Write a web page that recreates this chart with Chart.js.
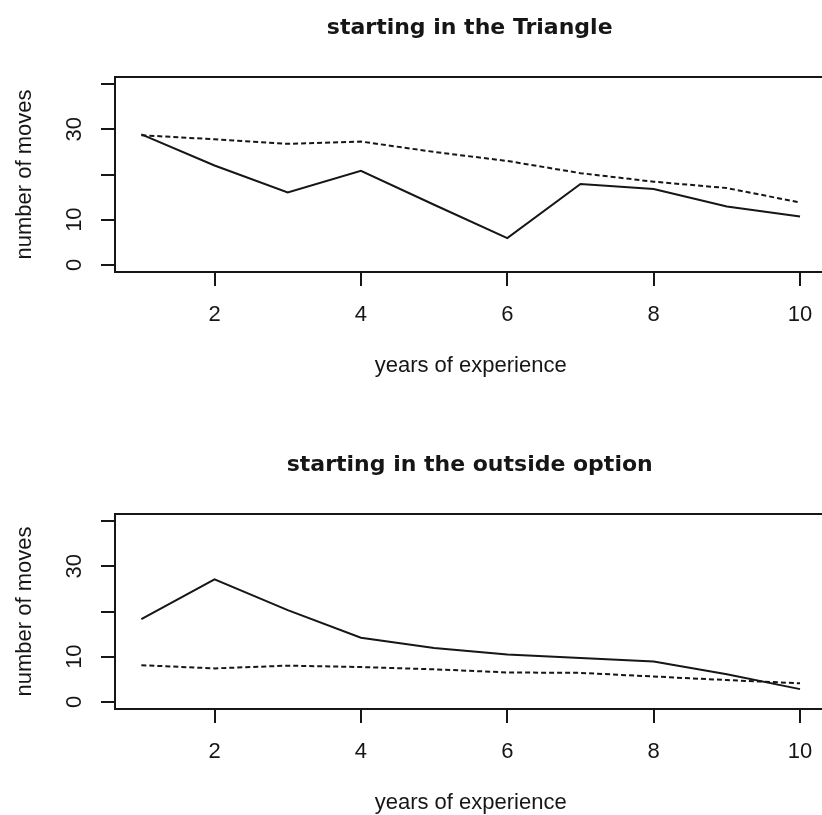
<!DOCTYPE html>
<html>
<head>
<meta charset="utf-8">
<script src="https://cdn.jsdelivr.net/npm/chart.js@4.4.1/dist/chart.umd.min.js"></script>
<style>
  html, body { margin: 0; padding: 0; background: #fff; overflow: hidden; width: 822px; height: 815px; }
  canvas.panel { position: absolute; left: 0; width: 860px; height: 400px; }
</style>
</head>
<body>
<canvas id="triangle" class="panel" style="top:0px" width="860" height="400"></canvas>
<canvas id="outside" class="panel" style="top:437px" width="860" height="400"></canvas>
<script>
// Years of experience on the x axis
const years = [1, 2, 3, 4, 5, 6, 7, 8, 9, 10];

// Panel 1: starting in the Triangle
const triangleSolid  = [28.9, 22.0, 16.0, 20.8, 13.3, 5.9, 17.9, 16.8, 12.9, 10.7];
const triangleDotted = [28.7, 27.8, 26.8, 27.3, 25.0, 23.0, 20.3, 18.4, 17.0, 13.8];

// Panel 2: starting in the outside option
const outsideSolid  = [18.3, 27.1, 20.3, 14.2, 11.9, 10.5, 9.7, 8.9, 6.1, 2.8];
const outsideDotted = [8.1, 7.4, 8.0, 7.7, 7.2, 6.5, 6.4, 5.6, 4.8, 4.1];

// Axis ticks
const xTicks = [2, 4, 6, 8, 10];
const yTicks = [0, 10, 20, 30, 40];
const yTickLabels = ['0', '10', '', '30', ''];
const yLimits = [0, 40];

const INK = '#161616';
const FAMILY = '"Liberation Sans", Arial, sans-serif';
const TEXT_SIZE = 22;

// base-graphics style 4% expansion of the axis ranges
function expand(lo, hi) {
  const pad = (hi - lo) * 0.04;
  return [lo - pad, hi + pad];
}
const [xMin, xMax] = expand(Math.min(...years), Math.max(...years));
const [yMin, yMax] = expand(yLimits[0], yLimits[1]);

// Box around the plot region, rotated y labels and the panel title
const framePlugin = {
  id: 'frame',
  afterDraw(chart, args, opts) {
    const { ctx, chartArea: a } = chart;
    ctx.save();
    ctx.strokeStyle = INK;
    ctx.lineWidth = 2;
    ctx.strokeRect(a.left, a.top, a.right - a.left, a.bottom - a.top);

    const yScale = chart.scales.y;
    ctx.fillStyle = INK;
    ctx.font = TEXT_SIZE + 'px ' + FAMILY;
    ctx.textAlign = 'center';
    ctx.textBaseline = 'middle';
    yScale.ticks.forEach(t => {
      const label = yTickLabels[yTicks.indexOf(t.value)];
      if (!label) return;
      ctx.save();
      ctx.translate(a.left - 40, yScale.getPixelForValue(t.value));
      ctx.rotate(-Math.PI / 2);
      ctx.fillText(label, 0, 0);
      ctx.restore();
    });

    ctx.font = 'bold 22px "DejaVu Sans", Verdana, sans-serif';
    ctx.textBaseline = 'middle';
    ctx.fillText(opts.text, (a.left + a.right) / 2 - 1, 28);
    ctx.restore();
  }
};

function points(values) {
  return years.map((x, i) => ({ x: x, y: values[i] }));
}

function axisGrid() {
  return { drawOnChartArea: false, drawTicks: true, tickLength: 14, color: INK, lineWidth: 2 };
}

function makePanel(id, title, solid, dotted) {
  return new Chart(document.getElementById(id), {
    type: 'line',
    data: {
      datasets: [
        { data: points(solid), borderColor: INK, borderWidth: 2, pointRadius: 0, tension: 0, fill: false },
        { data: points(dotted), borderColor: INK, borderWidth: 2, borderDash: [5, 3], pointRadius: 0, tension: 0, fill: false }
      ]
    },
    options: {
      responsive: false,
      animation: false,
      devicePixelRatio: 1,
      layout: { padding: { top: 77, right: 33.6, bottom: 0, left: 0 } },
      plugins: {
        legend: { display: false },
        tooltip: { enabled: false },
        frame: { text: title }
      },
      scales: {
        x: {
          type: 'linear',
          min: xMin,
          max: xMax,
          afterBuildTicks: s => { s.ticks = xTicks.map(v => ({ value: v })); },
          afterFit: s => { s.height = 128; },
          border: { display: false },
          grid: axisGrid(),
          ticks: { color: INK, font: { family: FAMILY, size: TEXT_SIZE }, padding: 16, maxRotation: 0, minRotation: 0, autoSkip: false },
          title: { display: true, text: 'years of experience', color: INK, font: { family: FAMILY, size: TEXT_SIZE }, padding: { top: 0, bottom: 20.8 } }
        },
        y: {
          type: 'linear',
          min: yMin,
          max: yMax,
          afterBuildTicks: s => { s.ticks = yTicks.map(v => ({ value: v })); },
          afterFit: s => { s.width = 115; },
          border: { display: false },
          grid: axisGrid(),
          ticks: { display: false },
          title: { display: true, text: 'number of moves', color: INK, font: { family: FAMILY, size: TEXT_SIZE }, padding: { top: 11.8, bottom: 0 } }
        }
      }
    },
    plugins: [framePlugin]
  });
}

makePanel('triangle', 'starting in the Triangle', triangleSolid, triangleDotted);
makePanel('outside', 'starting in the outside option', outsideSolid, outsideDotted);
</script>
</body>
</html>
